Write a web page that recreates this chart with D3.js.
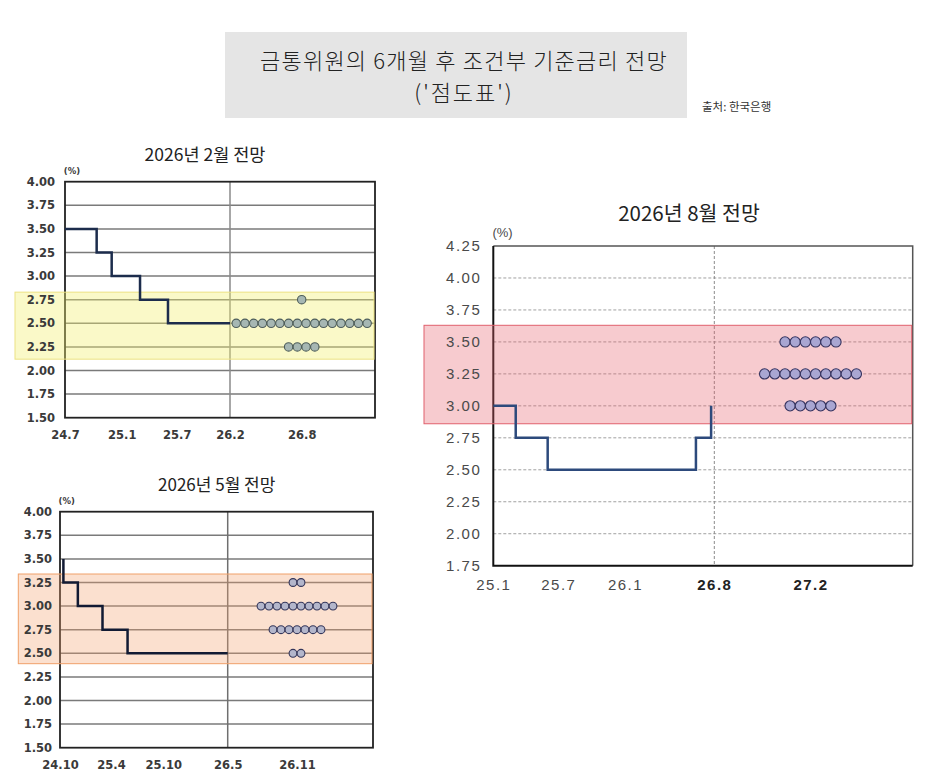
<!DOCTYPE html>
<html>
<head>
<meta charset="utf-8">
<script src="https://cdn.jsdelivr.net/npm/d3@7"></script>
<style>
  body { margin: 0; background: #fff; }
</style>
</head>
<body>
<script>
/* DATA */
// months counted from Jan 2024 = 1 (24.7 -> 7, 25.1 -> 13 ...)
const titleLine1 = "금통위원의 6개월 후 조건부 기준금리 전망";
const titleLine2 = "('점도표')";
const sourceText = "출처: 한국은행";

// panel 1: 2026년 2월
const p1Title = "2026년 2월 전망";
const p1TickLabels = ["24.7", "25.1", "25.7", "26.2", "26.8"];
const p1TickMonths = [7, 13, 19, 26, 32];
const p1YTicks = [4.00, 3.75, 3.50, 3.25, 3.00, 2.75, 2.50, 2.25, 2.00, 1.75, 1.50];
const p1StepMonths = [7, 10.35, 11.94, 15.0, 18.05, 26];
const p1StepRates = [3.50, 3.25, 3.00, 2.75, 2.50, 2.50];
const p1DotRates = [2.75, 2.50, 2.25];
const p1DotCounts = [1, 16, 4];
const p1Band = [2.12, 2.83];

// panel 2: 2026년 5월
const p2Title = "2026년 5월 전망";
const p2TickLabels = ["24.10", "25.4", "25.10", "26.5", "26.11"];
const p2TickMonths = [10, 16, 22, 29, 35];
const p2YTicks = [4.00, 3.75, 3.50, 3.25, 3.00, 2.75, 2.50, 2.25, 2.00, 1.75, 1.50];
const p2StepMonths = [10.4, 10.4, 12.1, 15.0, 17.9, 29];
const p2StepRates = [3.50, 3.25, 3.00, 2.75, 2.50, 2.50];
const p2DotRates = [3.25, 3.00, 2.75, 2.50];
const p2DotCounts = [2, 10, 7, 2];
const p2Band = [2.39, 3.34];

// panel 3: 2026년 8월
const p3Title = "2026년 8월 전망";
const p3TickLabels = ["25.1", "25.7", "26.1", "26.8", "27.2"];
const p3TickMonths = [13, 19, 25, 32, 38];
const p3YTicks = [4.25, 4.00, 3.75, 3.50, 3.25, 3.00, 2.75, 2.50, 2.25, 2.00, 1.75];
const p3StepMonths = [13, 15.07, 18.02, 30.56, 31.75];
const p3StepRates = [3.00, 2.75, 2.50, 2.75, 3.00];
const p3DotRates = [3.50, 3.25, 3.00];
const p3DotCounts = [6, 10, 5];
const p3Band = [2.86, 3.63];

const width = 926, height = 782;

const svg = d3.select("body").append("svg")
  .attr("width", width)
  .attr("height", height)
  .style("font-family", "'Noto Sans CJK KR', 'Noto Sans', sans-serif");

// TITLE BOX
svg.append("rect")
  .attr("x", 225).attr("y", 32)
  .attr("width", 462).attr("height", 86)
  .attr("fill", "#e5e5e5");

svg.append("text")
  .attr("x", 464).attr("y", 69)
  .attr("text-anchor", "middle")
  .style("font-size", "22px")
  .style("font-weight", 300)
  .style("letter-spacing", "1.2px")
  .style("fill", "#222")
  .text(titleLine1);

svg.append("text")
  .attr("x", 464).attr("y", 101)
  .attr("text-anchor", "middle")
  .style("font-size", "22px")
  .style("font-weight", 300)
  .style("letter-spacing", "2px")
  .style("fill", "#222")
  .text(titleLine2);

svg.append("text")
  .attr("x", 702).attr("y", 111)
  .style("font-size", "11.5px")
  .style("fill", "#333")
  .text(sourceText);

// one dot chart
function drawPanel(o) {
  const g = svg.append("g");
  const x = d3.scaleLinear().domain(o.xDomain).range(o.xRange);
  const y = d3.scaleLinear()
    .domain([o.yTicks[o.yTicks.length - 1], o.yTicks[0]])
    .range([o.bottom, o.top]);
  const left = o.xRange[0], right = o.xRange[o.xRange.length - 1];

  // horizontal gridlines
  g.selectAll("line.grid")
    .data(o.yTicks.slice(1, -1))
    .join("line")
    .attr("class", "grid")
    .attr("x1", left).attr("x2", right)
    .attr("y1", d => y(d)).attr("y2", d => y(d))
    .attr("stroke", o.gridColor)
    .attr("stroke-width", o.gridWidth)
    .attr("stroke-dasharray", o.dashed ? "3,2" : null);

  // divider between history and outlook
  g.append("line")
    .attr("x1", x(o.divider)).attr("x2", x(o.divider))
    .attr("y1", o.top).attr("y2", o.bottom)
    .attr("stroke", o.dividerColor)
    .attr("stroke-width", o.dashed ? 1 : 1.5)
    .attr("stroke-dasharray", o.dashed ? "3,2" : null);

  // frame
  if (o.dashed) {
    g.append("path")
      .attr("d", `M${left},${o.top}H${right}V${o.bottom}`)
      .attr("fill", "none").attr("stroke", "#555").attr("stroke-width", 1.5);
    g.append("path")
      .attr("d", `M${left},${o.top}V${o.bottom}H${right}`)
      .attr("fill", "none").attr("stroke", "#111").attr("stroke-width", 2);
  } else {
    g.append("rect")
      .attr("x", left).attr("y", o.top)
      .attr("width", right - left).attr("height", o.bottom - o.top)
      .attr("fill", "none").attr("stroke", "#222").attr("stroke-width", 1.8);
  }

  // highlight band
  g.append("rect")
    .attr("x", o.bandLeft)
    .attr("y", y(o.band[1]))
    .attr("width", right - 1 - o.bandLeft)
    .attr("height", y(o.band[0]) - y(o.band[1]))
    .attr("fill", o.bandFill)
    .attr("fill-opacity", o.bandOpacity)
    .attr("stroke", o.bandStroke)
    .attr("stroke-width", 1);

  // policy rate path
  const line = d3.line()
    .x(d => x(d[0]))
    .y(d => y(d[1]))
    .curve(d3.curveStepAfter);
  g.append("path")
    .datum(d3.zip(o.stepMonths, o.stepRates))
    .attr("d", line)
    .attr("fill", "none")
    .attr("stroke", o.lineColor)
    .attr("stroke-width", o.lineWidth);

  // dots
  const dots = [];
  o.dotRates.forEach((r, j) => {
    const n = o.dotCounts[j];
    for (let i = 0; i < n; i++) dots.push({ rate: r, off: i - (n - 1) / 2 });
  });
  g.selectAll("circle.dot")
    .data(dots)
    .join("circle")
    .attr("class", "dot")
    .attr("cx", d => x(o.dotMonth) + d.off * o.dotGap)
    .attr("cy", d => y(d.rate))
    .attr("r", o.dotR)
    .attr("fill", o.dotFill)
    .attr("stroke", o.dotStroke)
    .attr("stroke-width", 1.1);

  // y axis labels
  const yAxis = g.append("g")
    .attr("transform", `translate(${left},0)`)
    .call(d3.axisLeft(y).tickValues(o.yTicks).tickFormat(d3.format(".2f"))
      .tickSize(0).tickPadding(o.yPad));
  yAxis.select(".domain").remove();
  yAxis.selectAll("text")
    .style("font-family", o.tickFont)
    .style("font-size", o.tickSize)
    .style("font-weight", o.tickWeight)
    .style("letter-spacing", o.tickSpacing)
    .style("fill", o.tickColor);

  // x axis labels
  const xAxis = g.append("g")
    .attr("transform", `translate(0,${o.bottom})`)
    .call(d3.axisBottom(x).tickValues(o.tickMonths)
      .tickFormat((d, i) => o.tickLabels[i])
      .tickSize(0).tickPadding(o.xPad));
  xAxis.select(".domain").remove();
  xAxis.selectAll("text")
    .style("font-family", o.tickFont)
    .style("font-size", o.tickSize)
    .style("font-weight", (d, i) => (o.boldFrom !== undefined && i >= o.boldFrom) ? "bold" : o.tickWeight)
    .style("letter-spacing", o.tickSpacing)
    .style("fill", (d, i) => (o.boldFrom !== undefined && i >= o.boldFrom) ? "#222" : o.tickColor);

  // unit
  g.append("text")
    .attr("x", o.unitX).attr("y", o.top - o.unitRise)
    .attr("text-anchor", "middle")
    .style("font-family", o.tickFont)
    .style("font-size", o.unitSize)
    .style("font-weight", o.tickWeight)
    .style("fill", o.tickColor)
    .text("(%)");

  // panel title
  g.append("text")
    .attr("x", o.titleX).attr("y", o.titleY)
    .attr("text-anchor", "middle")
    .style("font-size", o.titleSize)
    .style("fill", "#222")
    .text(o.title);
}

drawPanel({
  title: p1Title, titleX: 205, titleY: 161, titleSize: "17.5px",
  xDomain: [7, 13, 19, 26, 32, 38], xRange: [65, 121.7, 176.7, 230, 301.7, 375],
  top: 181.7, bottom: 417.7,
  yTicks: p1YTicks, tickMonths: p1TickMonths, tickLabels: p1TickLabels,
  stepMonths: p1StepMonths, stepRates: p1StepRates,
  dotRates: p1DotRates, dotCounts: p1DotCounts, dotMonth: 32,
  dotGap: 8.73, dotR: 4.2, dotFill: "#a6b7b3", dotStroke: "#4d5d5b",
  divider: 26, dividerColor: "#8a8a8a",
  gridColor: "#7a7a7a", gridWidth: 1.5, dashed: false,
  band: p1Band, bandLeft: 15, bandFill: "#f3ee6e", bandOpacity: 0.38, bandStroke: "#ece283",
  lineColor: "#1c2c4c", lineWidth: 2.5,
  tickFont: "'DejaVu Sans', sans-serif", tickSize: "11.5px", tickWeight: "bold",
  tickSpacing: "0px", tickColor: "#3a3a3a", yPad: 10, xPad: 13,
  unitX: 72, unitRise: 8, unitSize: "8.5px"
});

drawPanel({
  title: p2Title, titleX: 216.7, titleY: 491, titleSize: "17px",
  xDomain: [10, 16, 22, 29, 35, 41.5], xRange: [60, 111, 163.3, 227.7, 297, 373],
  top: 511.7, bottom: 747.7,
  yTicks: p2YTicks, tickMonths: p2TickMonths, tickLabels: p2TickLabels,
  stepMonths: p2StepMonths, stepRates: p2StepRates,
  dotRates: p2DotRates, dotCounts: p2DotCounts, dotMonth: 35,
  dotGap: 8.0, dotR: 3.9, dotFill: "#b3b6cb", dotStroke: "#34365a",
  divider: 29, dividerColor: "#6f6f6f",
  gridColor: "#7a7a7a", gridWidth: 1.5, dashed: false,
  band: p2Band, bandLeft: 18.3, bandFill: "#f4a06e", bandOpacity: 0.33, bandStroke: "#f0a06a",
  lineColor: "#111a33", lineWidth: 2.5,
  tickFont: "'DejaVu Sans', sans-serif", tickSize: "11.5px", tickWeight: "bold",
  tickSpacing: "0px", tickColor: "#3a3a3a", yPad: 8, xPad: 13,
  unitX: 66.7, unitRise: 8, unitSize: "8.5px"
});

drawPanel({
  title: p3Title, titleX: 689, titleY: 221, titleSize: "20.5px",
  xDomain: [13, 19, 25, 32, 38, 44.2], xRange: [493.3, 558.3, 625, 714.3, 810.5, 912.7],
  top: 246, bottom: 565.7,
  yTicks: p3YTicks, tickMonths: p3TickMonths, tickLabels: p3TickLabels,
  stepMonths: p3StepMonths, stepRates: p3StepRates,
  dotRates: p3DotRates, dotCounts: p3DotCounts, dotMonth: 38,
  dotGap: 10.2, dotR: 5.1, dotFill: "#a9a6d2", dotStroke: "#35335f",
  divider: 32, dividerColor: "#8a8a8a",
  gridColor: "#a0a0a0", gridWidth: 1, dashed: true,
  band: p3Band, bandLeft: 424, bandFill: "#e8606c", bandOpacity: 0.33, bandStroke: "#e0606c",
  lineColor: "#2d4a7c", lineWidth: 2.5,
  tickFont: "'Liberation Sans', Arial, sans-serif", tickSize: "15px", tickWeight: "normal",
  tickSpacing: "1.5px", tickColor: "#4a4a4a", yPad: 12, xPad: 14,
  unitX: 502.5, unitRise: 9, unitSize: "13px", boldFrom: 3
});
</script>
</body>
</html>
